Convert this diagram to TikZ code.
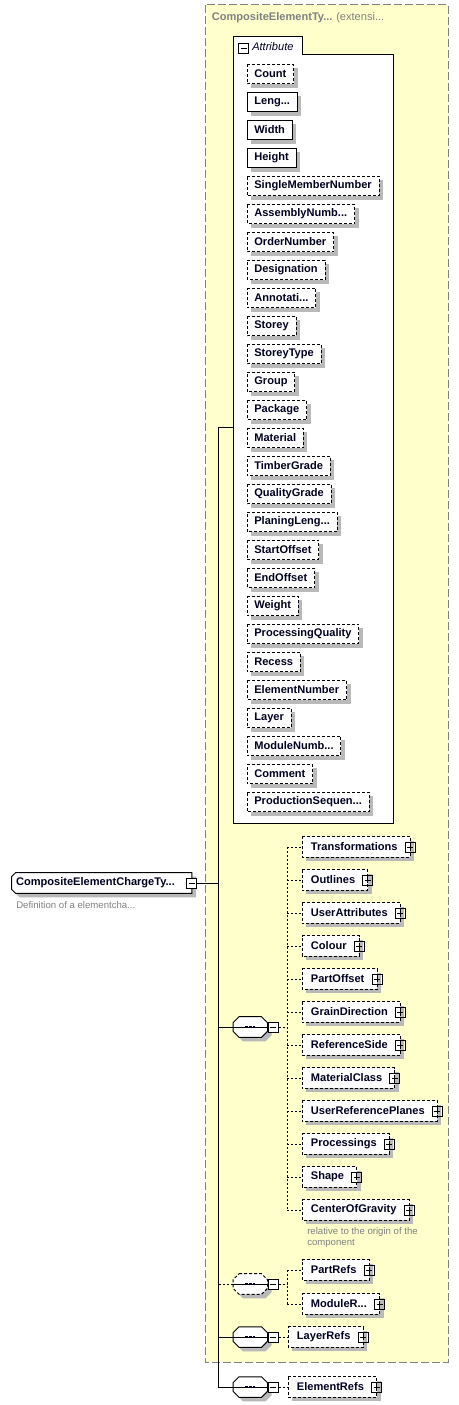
\documentclass[tikz,border=0pt]{standalone}
\usepackage{fontspec}
\setmainfont{Liberation Sans}
\usetikzlibrary{positioning}

\definecolor{typebg}{RGB}{255,255,204}
\definecolor{typeline}{RGB}{128,128,128}
\definecolor{shadowgray}{RGB}{185,185,185}
\definecolor{ink}{RGB}{0,0,32}

\newcommand\elide{.\kern0pt.\kern0pt.}

\pgfdeclarelayer{back}
\pgfdeclarelayer{boxes}
\pgfsetlayers{back,boxes,main}

\tikzset{
    link/.style = {line width=0.75pt},
    optlink/.style = {link, dash pattern=on 1.5pt off 1.5pt},
    opt/.style = {dash pattern=on 2.25pt off 1.5pt},
    req/.style = {},
    shadowed/.style = {preaction={draw=none, fill=shadowgray, transform canvas={xshift=3pt, yshift=-3pt}}},
    outline/.style = {link, fill=white, shadowed},
    labeltext/.style = {font=\bfseries\fontsize{8.3}{9}\selectfont, text=ink},
    elem/.style = {labeltext, rectangle, anchor=west,
        inner xsep=5.3pt, inner ysep=0pt, minimum height=14.25pt},
    kid/.style = {elem, minimum height=15pt, inner xsep=6.5pt,
        execute at end node={\kern2.8pt}},
    plusbox/.style = {draw, line width=0.75pt, minimum size=7.5pt, inner sep=0pt,
        path picture={
            \draw[line width=0.75pt] ([yshift=1.5pt]path picture bounding box.south) -- ([yshift=-1.5pt]path picture bounding box.north);
            \draw[line width=0.75pt] ([xshift=1.5pt]path picture bounding box.west) -- ([xshift=-1.5pt]path picture bounding box.east);}},
    minusbox/.style = {draw, line width=0.75pt, fill=white, minimum size=7.5pt, inner sep=0pt,
        path picture={
            \draw[line width=0.75pt] ([xshift=1.5pt]path picture bounding box.west) -- ([xshift=-1.5pt]path picture bounding box.east);}},
    seqbox/.style = {rectangle, minimum width=25.5pt, minimum height=15pt, inner sep=0pt, anchor=west},
    rootbox/.style = {labeltext, rectangle, anchor=west, minimum height=15pt, inner xsep=3.2pt,
        inner ysep=0pt, execute at end node={\kern9.3pt}},
    note/.style = {font=\fontsize{7.2}{8.25}\selectfont, text=typeline, anchor=west,
        inner sep=0pt, align=left}
}

% box outline round a named node, drawn under it
\newcommand\boxaround[2]{%
    \begin{pgfonlayer}{boxes}
        \draw[outline, #2] (#1.north west) -- (#1.north east) -- (#1.south east) -- (#1.south west) -- cycle;
    \end{pgfonlayer}}

\begin{document}
\begin{tikzpicture}[x=0.75pt, y=-0.75pt]
    \useasboundingbox (0,0) rectangle (459,1405);

    % Extended type
    \begin{pgfonlayer}{back}
        \draw[typeline, line width=0.75pt, dash pattern=on 6pt off 2.25pt, fill=typebg] (205,5) rectangle (448,1362);
        \draw[link, fill=white] (233,823) -- (233,37) -- (302,37) -- (302,55) -- (393,55) -- (393,823) -- cycle;
    \end{pgfonlayer}
    \node[anchor=west, inner sep=0pt, text=typeline, font=\bfseries\fontsize{8.3}{9}\selectfont] (typename) at (211.5,18) {CompositeElementTy\elide};
    \node[anchor=west, inner sep=0pt, text=typeline, font=\fontsize{8.3}{9}\selectfont] (typekind) at (336,18) {(extensi\elide};

    % Attribute group
    \node[minusbox] (attrm) at (243.5,48.5) {};
    \node[anchor=west, inner sep=0pt, text=ink, font=\itshape\fontsize{8.3}{9}\selectfont] (attrlbl) at (252,46.5) {Attribute};
    \coordinate (attr) at (233,427);
    \coordinate (bus) at (218,427);

    \foreach \lbl/\kind [count=\i from 0] in {Count/opt, Leng\elide/req, Width/req, Height/req,
        SingleMemberNumber/opt, AssemblyNumb\elide/opt, OrderNumber/opt, Designation/opt,
        Annotati\elide/opt, Storey/opt, StoreyType/opt, Group/opt, Package/opt, Material/opt,
        TimberGrade/opt, QualityGrade/opt, PlaningLeng\elide/opt, StartOffset/opt, EndOffset/opt,
        Weight/opt, ProcessingQuality/opt, Recess/opt, ElementNumber/opt, Layer/opt,
        ModuleNumb\elide/opt, Comment/opt, ProductionSequen\elide/opt} {
        \node[elem] (a\i) at (247,{74+28*\i}) {\lbl};
        \boxaround{a\i}{\kind}
    }

    % Root element
    \node[rootbox] (root) at (11.5,883) {CompositeElementChargeTy\elide};
    \begin{pgfonlayer}{boxes}
        \draw[outline] ([xshift=3pt]root.north west) -- (root.north east) -- (root.south east)
            -- ([xshift=3pt]root.south west) -- ([yshift=3pt]root.south west) -- ([yshift=-3pt]root.north west) -- cycle;
    \end{pgfonlayer}
    \node[minusbox] (rootm) at (root.east) {};
    \node[note] (rootnote) at (16,905) {Definition of a elementcha\elide};

    % Compositors
    \node[seqbox] (seq1) at (233,1027) {};
    \node[seqbox] (seq2) at (233,1284) {};
    \node[seqbox] (seq3) at (233,1337) {};
    \node[seqbox] (seq4) at (233,1387) {};
    \foreach \s/\pat in {seq1/solid, seq2/opt, seq3/solid, seq4/solid} {
        \begin{pgfonlayer}{boxes}
            \draw[outline, \pat] ([xshift=4.5pt]\s.north west) -- ([xshift=-4.5pt]\s.north east)
                -- ([yshift=-4.5pt]\s.north east) -- ([yshift=4.5pt]\s.south east) -- ([xshift=-4.5pt]\s.south east)
                -- ([xshift=4.5pt]\s.south west) -- ([yshift=4.5pt]\s.south west) -- ([yshift=-4.5pt]\s.north west) -- cycle;
        \end{pgfonlayer}
        \draw[link] (\s.west) -- (\s.east);
        \foreach \d in {-2.7pt,0pt,2.7pt}
            \fill[ink] ([xshift=\d]\s.center) +(-1pt,-1pt) rectangle +(1pt,1pt);
        \node[minusbox, anchor=west] (\s m) at (\s.east) {};
    }

    % Sequence of parts
    \coordinate (fork1) at (287,1027);
    \foreach \lbl [count=\i from 0] in {Transformations, Outlines, UserAttributes, Colour,
        PartOffset, GrainDirection, ReferenceSide, MaterialClass, UserReferencePlanes,
        Processings, Shape, CenterOfGravity} {
        \node[kid] (k\i) at (302,{847+33*\i}) {\lbl};
        \boxaround{k\i}{opt}
        \node[plusbox] at (k\i.east) {};
        \draw[optlink] (k\i.west -| fork1) -- (k\i);
    }
    \draw[optlink] (seq1m) -- (fork1);
    \draw[optlink] (k0.west -| fork1) -- (k11.west -| fork1);
    \node[note] (cognote) at (307,1237.5) {relative to the origin of the\\component};

    % Optional references
    \coordinate (fork2) at (287,1284);
    \node[kid] (partrefs) at (302,1270) {PartRefs};
    \boxaround{partrefs}{opt}
    \node[plusbox] at (partrefs.east) {};
    \node[kid] (modrefs) at (302,1304) {ModuleR\elide};
    \boxaround{modrefs}{opt}
    \node[plusbox] at (modrefs.east) {};
    \draw[optlink] (seq2m) -- (fork2);
    \draw[optlink] (partrefs.west -| fork2) -- (modrefs.west -| fork2);
    \draw[optlink] (partrefs.west -| fork2) -- (partrefs);
    \draw[optlink] (modrefs.west -| fork2) -- (modrefs);

    % Layers and elements
    \node[kid] (layerrefs) at (288,1337) {LayerRefs};
    \boxaround{layerrefs}{opt}
    \node[plusbox] at (layerrefs.east) {};
    \draw[optlink] (seq3m) -- (layerrefs);
    \node[kid] (elemrefs) at (288,1387) {ElementRefs};
    \boxaround{elemrefs}{opt}
    \node[plusbox] at (elemrefs.east) {};
    \draw[optlink] (seq4m) -- (elemrefs);

    % Content model
    \draw[link] (attr) -- (bus) |- (seq4);
    \draw[link] (rootm) -- (rootm -| bus);
    \draw[link] (seq1) -- (seq1 -| bus);
    \draw[optlink] (seq2) -- (seq2 -| bus);
    \draw[link] (seq3) -- (seq3 -| bus);
\end{tikzpicture}
\end{document}
